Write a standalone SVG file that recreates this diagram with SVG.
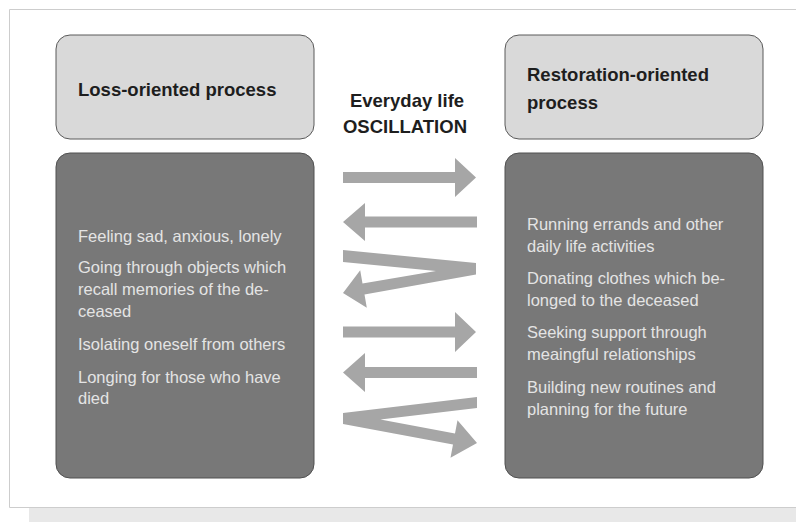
<svg xmlns="http://www.w3.org/2000/svg" width="796" height="522" viewBox="0 0 796 522">
<style>
.frame{fill:none;stroke:#cdcdcd;stroke-width:1}
.head{fill:#d9d9d9;stroke:#5a5a5a;stroke-width:1}
.body{fill:#787878;stroke:#505050;stroke-width:1}
.title{font-family:"Liberation Sans",Arial,sans-serif;font-weight:bold;font-size:18.5px;fill:#1e1e1e}
.mid{font-family:"Liberation Sans",Arial,sans-serif;font-weight:bold;font-size:18.5px;fill:#1e1e1e;text-anchor:middle}
.txt{font-family:"Liberation Sans",Arial,sans-serif;font-size:16.5px;fill:#e4e4e4}
.arr{fill:#a6a6a6}
</style>
<rect x="0" y="0" width="796" height="522" fill="#ffffff"/>
<rect x="29" y="508" width="767" height="14" fill="#e8e8e8"/>
<path class="frame" d="M796 9.5H9.5V507.5H796"/>

<g id="loss-header">
<rect class="head" x="56" y="35" width="258" height="104" rx="14"/>
<text class="title" x="78" y="96">Loss-oriented process</text>
</g>
<g id="loss-body">
<rect class="body" x="56" y="153" width="258" height="325" rx="14"/>
<text class="txt" x="78" y="242">Feeling sad, anxious, lonely</text>
<text class="txt" x="78" y="273">Going through objects which</text>
<text class="txt" x="78" y="295">recall memories of the de-</text>
<text class="txt" x="78" y="317">ceased</text>
<text class="txt" x="78" y="350">Isolating oneself from others</text>
<text class="txt" x="78" y="383">Longing for those who have</text>
<text class="txt" x="78" y="404">died</text>
</g>
<g id="restoration-header">
<rect class="head" x="505" y="35" width="258" height="104" rx="14"/>
<text class="title" x="527" y="81">Restoration-oriented</text>
<text class="title" x="527" y="109">process</text>
</g>
<g id="restoration-body">
<rect class="body" x="505" y="153" width="258" height="325" rx="14"/>
<text class="txt" x="527" y="230">Running errands and other</text>
<text class="txt" x="527" y="252">daily life activities</text>
<text class="txt" x="527" y="284">Donating clothes which be-</text>
<text class="txt" x="527" y="306">longed to the deceased</text>
<text class="txt" x="527" y="338">Seeking support through</text>
<text class="txt" x="527" y="360">meaingful relationships</text>
<text class="txt" x="527" y="393">Building new routines and</text>
<text class="txt" x="527" y="415">planning for the future</text>
</g>
<g id="oscillation-label">
<text class="mid" x="407" y="107">Everyday life</text>
<text class="mid" x="405" y="133">OSCILLATION</text>
</g>
<g id="connectors">
<polygon class="arr" points="343,172 455,172 455,158 476,177.5 455,197 455,183 343,183"/>
<polygon class="arr" points="477,216.5 365,216.5 365,203 343,222 365,241 365,227.5 477,227.5"/>
<polygon class="arr" points="343,250 476,263 476,274.5 364.5,294.4 366.8,307.7 343,293 360.2,270.3 362.5,283.6 436,270.9 343,262"/>
<polygon class="arr" points="343,326.5 455,326.5 455,312 476,332 455,352 455,337.5 343,337.5"/>
<polygon class="arr" points="477,367 365,367 365,353 343,372.5 365,392 365,378 477,378"/>
<polygon class="arr" points="477,397 343,413 343,424 453,444.4 450.5,457.7 477,443 457.5,420.3 455,433.6 380.4,419.5 477,408"/>
</g>
</svg>
